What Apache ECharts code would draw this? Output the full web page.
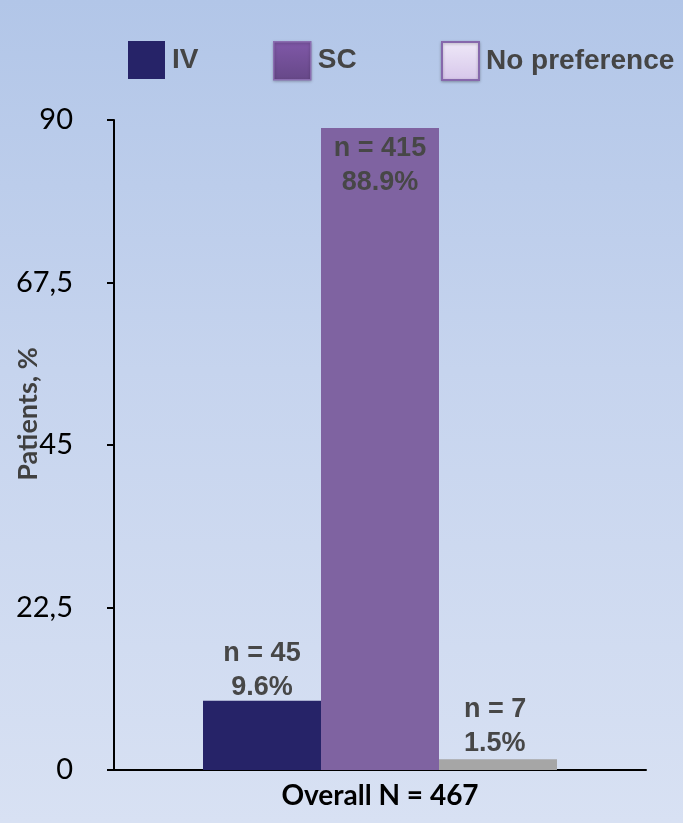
<!DOCTYPE html>
<html>
<head>
<meta charset="utf-8">
<script src="https://cdn.jsdelivr.net/npm/echarts@6/dist/echarts.min.js"></script>
<style>
  html, body { margin: 0; padding: 0; }
  #chart {
    width: 683px; height: 823px;
    background: linear-gradient(to bottom, #b2c6e8 0%, #c6d4ee 45%, #d8e1f3 100%);
  }
</style>
</head>
<body>
<div id="chart"></div>
<script>
// Preference for route of administration
const categories = ['Overall N = 467'];
const seriesNames = ['IV', 'SC', 'No preference'];
const percentValues = [9.6, 88.9, 1.5];
const patientCounts = [45, 415, 7];
const yTicks = [0, 22.5, 45, 67.5, 90];
const yTitle = 'Patients, %';

const barColors = ['#262368', '#7f63a1', '#a6a6a6'];
const labelColor = '#474747';
const labelFont = '"Liberation Sans", Arial, sans-serif';
const tickFont = 'Lato, "Open Sans", sans-serif';

const chart = echarts.init(document.getElementById('chart'), null, { renderer: 'canvas' });

function labelFor(i) {
  const base = {
    show: true,
    formatter: () => 'n = ' + patientCounts[i] + '\n' + percentValues[i].toFixed(1) + '%',
    color: labelColor,
    fontFamily: labelFont,
    fontWeight: 'bold',
    fontSize: 27,
    lineHeight: 34,
    align: 'center'
  };
  if (i === 0) return Object.assign(base, { position: 'top', distance: -4 });
  if (i === 1) return Object.assign(base, { position: 'insideTop', distance: 4 });
  return Object.assign(base, { position: [25, 1], align: 'left', verticalAlign: 'bottom' });
}

const legendStyles = [
  { color: '#262368', borderWidth: 0 },
  {
    color: new echarts.graphic.LinearGradient(0, 0, 0, 1, [
      { offset: 0, color: '#8058a8' },
      { offset: 1, color: '#664888' }
    ]),
    borderColor: '#8a6db0', borderWidth: 1.5,
    shadowColor: 'rgba(0,0,0,0.25)', shadowBlur: 3, shadowOffsetY: 1
  },
  {
    color: new echarts.graphic.LinearGradient(0, 0, 0, 1, [
      { offset: 0, color: '#efe9f8' },
      { offset: 1, color: '#d6c6ea' }
    ]),
    borderColor: '#8668ac', borderWidth: 2,
    shadowColor: 'rgba(0,0,0,0.25)', shadowBlur: 3, shadowOffsetY: 1
  }
];
const legendLefts = [123, 268, 436];

const option = {
  animation: false,
  legend: seriesNames.map((name, i) => ({
    left: legendLefts[i],
    top: 36,
    itemWidth: 37,
    itemHeight: 38,
    itemGap: 10,
    icon: 'rect',
    data: [{ name: name, itemStyle: legendStyles[i] }],
    textStyle: {
      color: '#454545',
      fontFamily: labelFont,
      fontWeight: 'bold',
      fontSize: 28,
      padding: [0, 0, 0, 2]
    },
    selectedMode: false
  })),
  // rotated y-axis title, centred a little above the axis midpoint
  graphic: [{
    type: 'text',
    x: 28,
    y: 414,
    rotation: Math.PI / 2,
    style: {
      text: yTitle,
      fill: '#404040',
      font: 'bold 27px Lato, "Open Sans", sans-serif',
      align: 'center',
      verticalAlign: 'middle'
    }
  }],
  grid: { left: 114, right: 37, top: 120, bottom: 53, containLabel: false, outerBoundsMode: 'none' },
  xAxis: {
    type: 'category',
    data: categories,
    axisLine: { show: true, lineStyle: { color: '#000', width: 2 } },
    axisTick: { show: false },
    axisLabel: {
      color: '#000',
      fontFamily: tickFont,
      fontWeight: 'bold',
      fontSize: 28,
      margin: 12
    }
  },
  yAxis: {
    type: 'value',
    min: 0,
    max: 90,
    interval: 22.5,
    axisLine: { show: true, lineStyle: { color: '#000', width: 2 } },
    axisTick: { show: true, inside: false, length: 7, lineStyle: { color: '#000', width: 2 } },
    splitLine: { show: false },
    axisLabel: {
      color: '#000',
      fontFamily: tickFont,
      fontSize: 29,
      margin: 41,
      formatter: v => {
        const t = yTicks.find(x => Math.abs(x - v) < 1e-6);
        return t === undefined ? '' : String(t).replace('.', ',');
      }
    }
  },
  series: seriesNames.map((name, i) => ({
    name: name,
    type: 'bar',
    data: [percentValues[i]],
    barWidth: 118,
    barGap: '0%',
    itemStyle: { color: barColors[i] },
    label: labelFor(i)
  }))
};

chart.setOption(option);
</script>
</body>
</html>
